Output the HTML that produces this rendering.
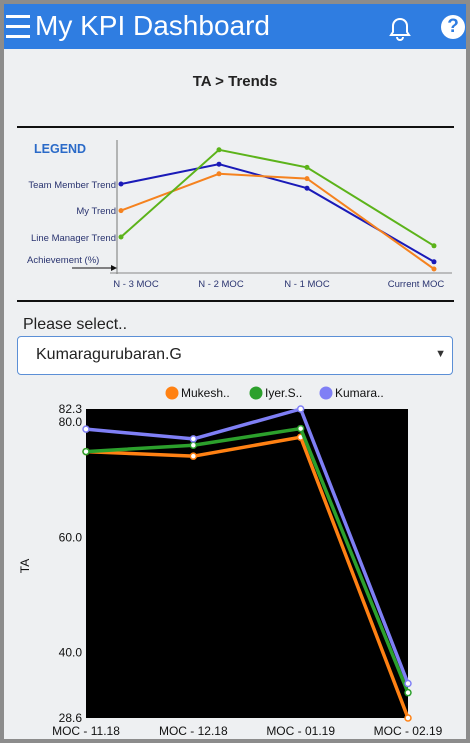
<!DOCTYPE html>
<html><head><meta charset="utf-8"><style>
body{margin:0;width:470px;height:743px;overflow:hidden;font-family:"Liberation Sans",sans-serif;background:#8c8c8c;}
#frame{position:absolute;left:4px;top:4px;width:462px;height:735px;background:#eef0f2;overflow:hidden;}
#hdr{position:absolute;left:0;top:0;width:462px;height:45px;background:#2f7de1;color:#fff;}
</style></head><body>
<div id="frame">
<div id="hdr">
 <div style="position:absolute;left:2px;top:10px;width:24px;height:24px;">
  <div style="height:3px;background:#fff;margin-top:1px"></div><div style="height:3px;background:#fff;margin-top:7px"></div><div style="height:3px;background:#fff;margin-top:7px"></div></div>
 <div style="position:absolute;left:31px;top:6px;font-size:28px;">My KPI Dashboard</div>
 <svg style="position:absolute;left:384px;top:12px" width="24" height="26" viewBox="0 0 24 26"><path d="M12 3c-4 0-7 3-7 7v6l-2 3h18l-2-3v-6c0-4-3-7-7-7z" fill="none" stroke="#fff" stroke-width="2"/><path d="M9 21a3 3 0 0 0 6 0" fill="none" stroke="#fff" stroke-width="2"/></svg>
 <div style="position:absolute;left:437px;top:11px;width:24px;height:24px;border-radius:50%;background:#fff;color:#2f7de1;font-weight:bold;font-size:19px;text-align:center;line-height:24px;">?</div>
</div>
<div style="position:absolute;left:0;width:462px;top:69px;text-align:center;font-weight:bold;font-size:15px;color:#222;">TA &gt; Trends</div>
<div style="position:absolute;left:13px;top:122px;width:437px;height:2px;background:#111"></div>
<div style="position:absolute;left:13px;top:296px;width:437px;height:2px;background:#111"></div>
<svg id="leg" style="position:absolute;left:-4px;top:-4px" width="470" height="310"></svg>
<div style="position:absolute;left:19px;top:312px;font-size:16px;color:#222;">Please select..</div>
<div style="position:absolute;left:13px;top:332px;width:434px;height:37px;background:#fff;border:1px solid #5b8fd6;border-radius:4px;">
 <span style="position:absolute;left:18px;top:9px;font-size:16px;color:#222">Kumaragurubaran.G</span>
 <span style="position:absolute;right:6px;top:11px;font-size:11px;color:#333">▼</span></div>
<svg id="ch" style="position:absolute;left:-4px;top:-4px" width="470" height="743"></svg>
</div>
<script>
const NS="http://www.w3.org/2000/svg";
function mk(p,t,a){const e=document.createElementNS(NS,t);for(const k in a)e.setAttribute(k,a[k]);p.appendChild(e);return e;}
// legend diagram data (illustrative image)
const legCats=["N - 3 MOC","N - 2  MOC","N - 1  MOC","Current MOC"];
const legTeam=[55.6,68,53,7];
const legMy=[39,62,59,2.5];
const legLM=[22.5,77,66,17];
const leg=document.getElementById('leg');
const lx=i=>[121,219,307,434][i], ly=v=>273-v*1.6;
mk(leg,'line',{x1:117,y1:140,x2:117,y2:274,stroke:'#777','stroke-width':1});
mk(leg,'line',{x1:110,y1:273,x2:452,y2:273,stroke:'#888','stroke-width':1});
mk(leg,'line',{x1:72,y1:268,x2:112,y2:268,stroke:'#111','stroke-width':1});
mk(leg,'path',{d:'M117 268 l-6 -3 v6z',fill:'#111'});
[[legTeam,'#1a1ab8','team-member-trend-line'],[legMy,'#f5821f','my-trend-line'],[legLM,'#5cb31a','line-manager-trend-line']].forEach(([d,c,n])=>{
 const pl=mk(leg,'polyline',{points:d.map((v,i)=>lx(i)+','+ly(v)).join(' '),fill:'none',stroke:c,'stroke-width':2});
 
 d.forEach((v,i)=>mk(leg,'circle',{cx:lx(i),cy:ly(v),r:2.5,fill:c}));});
const lt=(x,y,s,sz,w,col,anc)=>{const t=mk(leg,'text',{x:x,y:y,'font-size':sz,'font-weight':w,fill:col,'text-anchor':anc||'start','font-family':'Liberation Sans, sans-serif'});t.textContent=s;return t;};
lt(34,153,'LEGEND',12.5,'bold','#2a6ac8');
lt(116,188,'Team Member Trend',9.5,'normal','#2a3470','end');
lt(116,214,'My Trend',9.5,'normal','#2a3470','end');
lt(116,241,'Line Manager Trend',9.5,'normal','#2a3470','end');
lt(27,263,'Achievement (%)',9.5,'normal','#2a3470');
legCats.forEach((c,i)=>lt([136,221,307,416][i],287,c,9.5,'normal','#2a3470','middle'));

// main chart data
const cats=["MOC - 11.18","MOC - 12.18","MOC - 01.19","MOC - 02.19"];
const seriesNames=["Mukesh..","Iyer.S..","Kumara.."];
const mukesh=[74.9,74.1,77.4,28.6];
const iyer=[74.9,76.0,78.9,33.0];
const kumara=[78.8,77.1,82.3,34.6];
const yTicks=[28.6,40.0,60.0,80.0,82.3];
const yMin=28.6,yMax=82.3;
const ch=document.getElementById('ch');
const X0=86,X1=408,Y0=718,Y1=409;
const xs=i=>X0+i*(X1-X0)/(cats.length-1);
const ys=v=>Y0-(v-yMin)/(yMax-yMin)*(Y0-Y1);
const bg=mk(ch,'rect',{x:X0,y:Y1,width:X1-X0,height:Y0-Y1,fill:'#000'});


const tx=(x,y,s,anc,sz)=>{const t=mk(ch,'text',{x:x,y:y,'font-size':sz||12,fill:'#111','text-anchor':anc,'font-family':'Liberation Sans, sans-serif'});t.textContent=s;return t;};
yTicks.forEach(v=>{const t=tx(82,ys(v)+4,v.toFixed(1),'end');});
cats.forEach((c,i)=>{const t=tx(xs(i),735,c,'middle');});
const yt=tx(0,0,'TA','middle');yt.setAttribute('transform','translate(29,566) rotate(-90)');

const cols=['#ff8113','#2ca02c','#7f7ff5'];
[mukesh,iyer,kumara].forEach((d,si)=>{
 const pl=mk(ch,'polyline',{points:d.map((v,i)=>xs(i)+','+ys(v)).join(' '),fill:'none',stroke:cols[si],'stroke-width':3.5,'stroke-linejoin':'round'});
 
 
 d.forEach((v,i)=>{const c=mk(ch,'circle',{cx:xs(i),cy:ys(v),r:3,fill:'#fff',stroke:cols[si],'stroke-width':1.5});
  
  });
 const lx0=[172,256,326][si];
 const g=mk(ch,'g',{});
 
 
 mk(g,'circle',{cx:lx0,cy:393,r:6.5,fill:cols[si]});
 const t=mk(g,'text',{x:lx0+9,y:397,'font-size':12,fill:'#111','font-family':'Liberation Sans, sans-serif'});t.textContent=seriesNames[si];
});
</script>
</body></html>
